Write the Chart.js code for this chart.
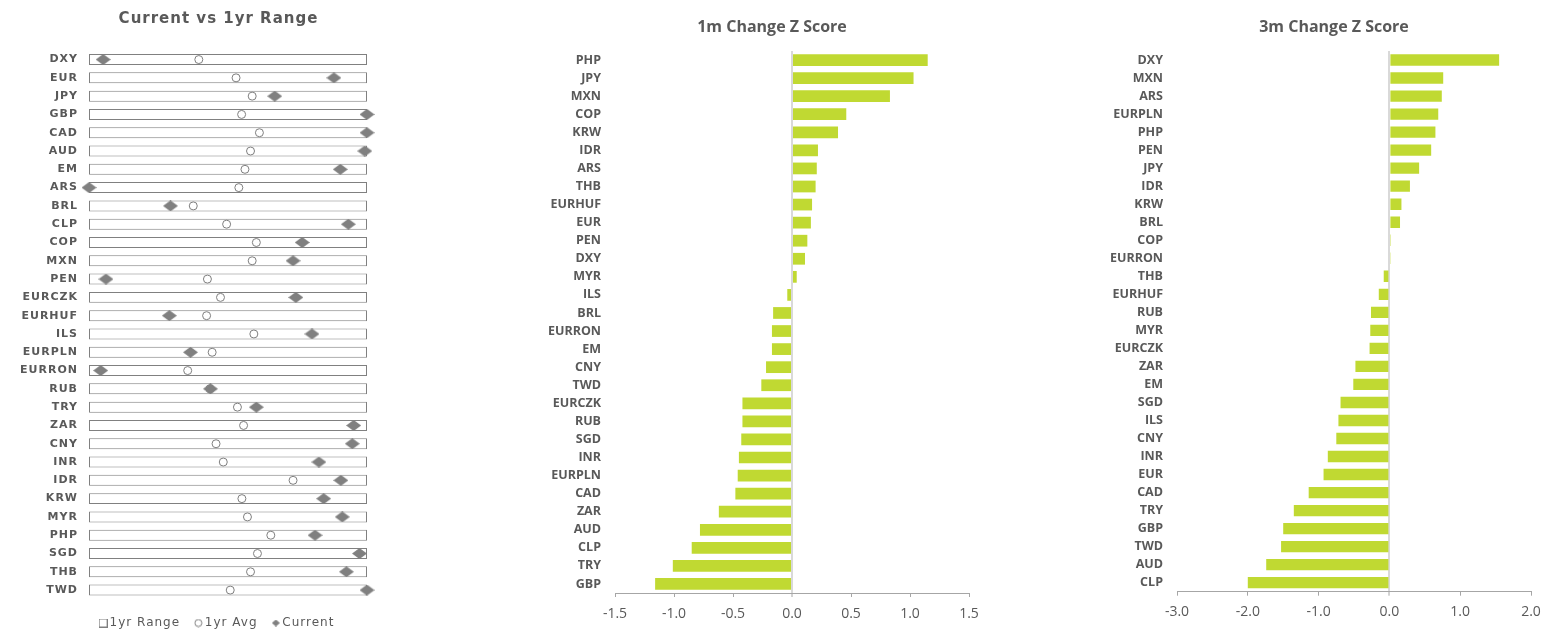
<!DOCTYPE html>
<html><head><meta charset="utf-8">
<script src="https://cdn.jsdelivr.net/npm/chart.js@4/dist/chart.umd.min.js"></script>
<style>
html,body{margin:0;padding:0;background:#fff;}
body{width:1545px;height:633px;position:relative;overflow:hidden;}
canvas{position:absolute;top:0;}
</style></head><body>
<canvas id="c1" width="437" height="633" style="left:0;width:437px;height:633px"></canvas>
<canvas id="c2" width="504" height="633" style="left:520px;width:504px;height:633px"></canvas>
<canvas id="c3" width="468" height="633" style="left:1100px;width:468px;height:633px"></canvas>
<script>
// ---- Current vs 1yr Range (position within 1yr range, 0 = low, 100 = high) ----
const rangeLabels = ['DXY','EUR','JPY','GBP','CAD','AUD','EM','ARS','BRL','CLP','COP','MXN','PEN','EURCZK','EURHUF','ILS','EURPLN','EURRON','RUB','TRY','ZAR','CNY','INR','IDR','KRW','MYR','PHP','SGD','THB','TWD'];
const rangeLow  = [0,0,0,0,0,0,0,0,0,0,0,0,0,0,0,0,0,0,0,0,0,0,0,0,0,0,0,0,0,0];
const rangeHigh = [100,100,100,100,100,100,100,100,100,100,100,100,100,100,100,100,100,100,100,100,100,100,100,100,100,100,100,100,100,100];
const avgPct     = [39.5,52.9,58.7,54.9,61.3,58.1,56.1,53.9,37.5,49.5,60.2,58.7,42.6,47.3,42.3,59.3,44.3,35.5,43.5,53.4,55.6,45.7,48.3,73.4,55.0,57.0,65.4,60.6,58.1,50.8];
const currentPct = [5.1,88.1,66.8,100,100,99.2,90.4,0,29.3,93.3,76.7,73.4,6.1,74.4,28.9,80.2,36.5,4.2,43.7,60.2,95.2,94.7,82.7,90.6,84.4,91.1,81.3,97.3,92.6,100];

// ---- 1m Change Z Score ----
const m1Labels = ['PHP','JPY','MXN','COP','KRW','IDR','ARS','THB','EURHUF','EUR','PEN','DXY','MYR','ILS','BRL','EURRON','EM','CNY','TWD','EURCZK','RUB','SGD','INR','EURPLN','CAD','ZAR','AUD','CLP','TRY','GBP'];
const m1Values = [1.15,1.03,0.83,0.46,0.39,0.22,0.21,0.20,0.17,0.16,0.13,0.11,0.04,-0.04,-0.16,-0.17,-0.17,-0.22,-0.26,-0.42,-0.42,-0.43,-0.45,-0.46,-0.48,-0.62,-0.78,-0.85,-1.01,-1.16];
const m1Ticks = [-1.5,-1.0,-0.5,0.0,0.5,1.0,1.5];

// ---- 3m Change Z Score ----
const m3Labels = ['DXY','MXN','ARS','EURPLN','PHP','PEN','JPY','IDR','KRW','BRL','COP','EURRON','THB','EURHUF','RUB','MYR','EURCZK','ZAR','EM','SGD','ILS','CNY','INR','EUR','CAD','TRY','GBP','TWD','AUD','CLP'];
const m3Values = [1.55,0.76,0.74,0.69,0.65,0.59,0.42,0.29,0.17,0.15,0.02,0.01,-0.08,-0.15,-0.26,-0.27,-0.28,-0.48,-0.51,-0.69,-0.72,-0.75,-0.87,-0.93,-1.14,-1.35,-1.50,-1.53,-1.74,-2.00];
const m3Ticks = [-3.0,-2.0,-1.0,0.0,1.0,2.0];

const TEXT = '#595959';
const BAR = '#C0D932';
const AXIS = '#A6A6A6';
const ZERO = '#D9D9D9';

function mkImg(w, h, draw) {
  const c = document.createElement('canvas');
  c.width = w; c.height = h;
  draw(c.getContext('2d'), w, h);
  return c;
}
function diamondDraw(color) {
  return (x, w, h) => {
    x.fillStyle = color;
    x.beginPath();
    x.moveTo(w / 2, 0); x.lineTo(w, h / 2); x.lineTo(w / 2, h); x.lineTo(0, h / 2);
    x.closePath(); x.fill();
  };
}
const diamondImg = mkImg(15, 11, diamondDraw('#808080'));
const legSquare = mkImg(9, 9, (x) => { x.strokeStyle = '#7f7f7f'; x.lineWidth = 1; x.strokeRect(0.5, 0.5, 8, 8); });
const legCircle = mkImg(9, 9, (x) => { x.strokeStyle = '#7f7f7f'; x.lineWidth = 1; x.beginPath(); x.arc(4.5, 4.5, 3.5, 0, Math.PI * 2); x.stroke(); });
const legDiamond = mkImg(8, 7, diamondDraw('#808080'));

const spacingPlugin = {
  id: 'spacing',
  beforeUpdate(c) { c.ctx.letterSpacing = '1px'; },
  beforeDraw(c) { c.ctx.letterSpacing = '1px'; }
};

// ---------- Left chart ----------
new Chart(document.getElementById('c1'), {
  type: 'bar',
  data: {
    labels: rangeLabels,
    datasets: [
      { type: 'bar', label: '1yr Range', indexAxis: 'y',
        data: rangeLabels.map((_, i) => [rangeLow[i], rangeHigh[i]]),
        backgroundColor: '#ffffff', borderColor: '#808080', borderWidth: 1, borderSkipped: false,
        barPercentage: 0.6, categoryPercentage: 1, order: 3 },
      { type: 'line', label: '1yr Avg', indexAxis: 'y', data: avgPct, showLine: false,
        pointStyle: 'circle', pointRadius: 4, pointBackgroundColor: '#ffffff',
        pointBorderColor: '#7f7f7f', pointBorderWidth: 1, clip: false, order: 2 },
      { type: 'line', label: 'Current', indexAxis: 'y', data: currentPct, showLine: false,
        pointStyle: diamondImg, pointRadius: 6, clip: false, order: 1 }
    ]
  },
  options: {
    indexAxis: 'y', responsive: false, animation: false,
    layout: { padding: { left: 0, right: 0, top: 0, bottom: -6 } },
    scales: {
      x: { display: false, min: 0, max: 100 },
      y: { grid: { display: false, drawTicks: false }, border: { display: false },
           ticks: { color: TEXT, font: { family: 'DejaVu Sans', weight: 'bold', size: 11 }, padding: 11, autoSkip: false },
           afterFit(s) { s.width = 89; } },
      y2: { type: 'category', position: 'right', display: true, grid: { display: false, drawTicks: false }, border: { display: false },
            ticks: { display: false }, afterFit(s) { s.width = 70; } }
    },
    plugins: {
      title: { display: true, text: 'Current vs 1yr Range', color: TEXT,
               font: { family: 'DejaVu Sans', weight: 'bold', size: 15 }, padding: { top: 10.5, bottom: 21.9 } },
      legend: { position: 'bottom',
        labels: { usePointStyle: true, boxWidth: 1, padding: 17.75, color: TEXT,
                  font: { family: 'DejaVu Sans', size: 12 },
                  generateLabels: () => [
                    { text: '1yr Range', pointStyle: legSquare, fillStyle: '#fff', strokeStyle: '#7f7f7f', lineWidth: 0, hidden: false, datasetIndex: 0, fontColor: TEXT },
                    { text: '1yr Avg', pointStyle: legCircle, fillStyle: '#fff', strokeStyle: '#7f7f7f', lineWidth: 0, hidden: false, datasetIndex: 1, fontColor: TEXT },
                    { text: 'Current', pointStyle: legDiamond, fillStyle: '#808080', strokeStyle: '#808080', lineWidth: 0, hidden: false, datasetIndex: 2, fontColor: TEXT }
                  ] } },
      tooltip: { enabled: false }
    }
  },
  plugins: [spacingPlugin]
});

// ---------- Z score charts ----------
function zChart(id, labels, values, ticks, title, opts) {
  return new Chart(document.getElementById(id), {
    type: 'bar',
    data: { labels: labels, datasets: [{ label: title, data: values, backgroundColor: BAR,
            barPercentage: opts.barPct, categoryPercentage: 1 }] },
    options: {
      indexAxis: 'y', responsive: false, animation: false,
      layout: { padding: 0 },
      scales: {
        x: { min: ticks[0], max: ticks[ticks.length - 1],
             ticks: { stepSize: ticks[1] - ticks[0], color: TEXT, font: { family: 'Open Sans', size: 14 },
                      padding: opts.tickPad, callback: v => Number(v).toFixed(1) },
             grid: { color: c => (c.tick && c.tick.value === 0) ? ZERO : 'rgba(0,0,0,0)',
                     lineWidth: c => (c.tick && c.tick.value === 0) ? 2 : 1,
                     tickColor: AXIS, tickLength: 4, tickWidth: 1, drawOnChartArea: true },
             border: { display: true, color: AXIS, width: 1 },
             afterFit(s) { s.height = opts.xHeight; } },
        y: { grid: { display: false, drawTicks: false }, border: { display: false },
             ticks: { color: TEXT, font: { family: 'Open Sans', weight: 'bold', size: 12.5 }, padding: 14, autoSkip: false },
             afterFit(s) { s.width = opts.yWidth; } },
        y2: { type: 'category', position: 'right', display: true, grid: { display: false, drawTicks: false }, border: { display: false },
              ticks: { display: false }, afterFit(s) { s.width = opts.rightWidth; } }
      },
      plugins: {
        legend: { display: false },
        tooltip: { enabled: false },
        title: { display: true, text: title, color: TEXT, font: { family: 'Open Sans', weight: 'bold', size: 16 },
                 padding: { top: 17.4, bottom: 14.4 } }
      }
    }
  });
}

zChart('c2', m1Labels, m1Values, m1Ticks, '1m Change Z Score',
  { barPct: 0.65, yWidth: 95, rightWidth: 55, xHeight: 40, tickPad: 9 });
zChart('c3', m3Labels, m3Values, m3Ticks, '3m Change Z Score',
  { barPct: 0.63, yWidth: 77, rightWidth: 37, xHeight: 41.3, tickPad: 8 });
</script>
</body></html>
